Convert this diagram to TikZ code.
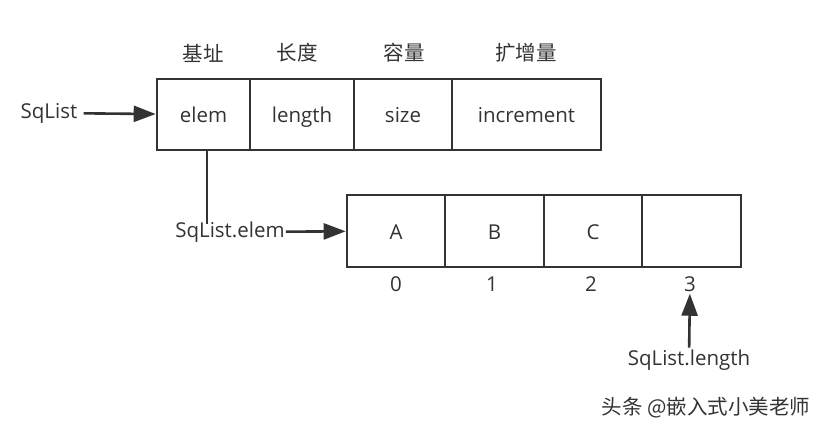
\documentclass[tikz,border=0pt]{standalone}
\usepackage{fontspec}
\setmainfont{Open Sans}
\newfontfamily\cjk{Noto Sans CJK SC}
\usetikzlibrary{positioning,calc,arrows.meta}

\definecolor{inkgray}{HTML}{333333}

\tikzset{
	cell/.style={draw=inkgray, line width=2.6pt, minimum height=71pt, inner sep=0pt, text=inkgray, text height=16pt, text depth=0pt},
	lbl/.style={text=inkgray, inner sep=2pt},
	ptr/.style={draw=inkgray, line width=2.6pt, -{Triangle[length=22pt,width=16pt]}}
}

\begin{document}
\begin{tikzpicture}[x=1pt,y=-1pt,font=\fontsize{20.5}{24}\selectfont]
				\useasboundingbox (0,0) rectangle (825,429);
				% top record
				\node[cell, minimum width=93pt] (elem) at (203.5, 114.5) {elem};
				\node[cell, minimum width=104pt] (length) at (302, 114.5) {length};
				\node[cell, minimum width=98pt] (size) at (403, 114.5) {size};
				\node[cell, minimum width=149pt] (incr) at (526.5, 114.5) {increment};
				\node[lbl] (hbase) at (203, 53) {\cjk 基址};
				\node[lbl] (hlen) at (297, 53) {\cjk 长度};
				\node[lbl] (hsize) at (404, 53) {\cjk 容量};
				\node[lbl] (hincr) at (526, 53) {\cjk 扩增量};
				\node[lbl, inner sep=6pt] (sqlist) at (49, 113) {SqList};
				\draw[ptr] (sqlist) -- (elem);
				% element array
				\node[cell, minimum width=98pt, minimum height=72pt] (ca) at (396, 231) {A};
				\node[cell, minimum width=99pt, minimum height=72pt] (cb) at (494.5, 231) {B};
				\node[cell, minimum width=98pt, minimum height=72pt] (cc) at (593, 231) {C};
				\node[cell, minimum width=99pt, minimum height=72pt] (cd) at (691.5, 231) {};
				\node[lbl] (i0) at (396, 284) {0};
				\node[lbl] (i1) at (492, 284) {1};
				\node[lbl] (i2) at (591, 284) {2};
				\node[lbl] (i3) at (690, 284) {3};
				\node[lbl, inner sep=1pt] (selem) at (230, 232) {SqList.elem};
				\coordinate (elemend) at (207, 224);
				\draw[draw=inkgray, line width=2.6pt] (elemend |- elem.south) -- (elemend);
				\draw[ptr] (selem) -- (ca);
				\node[lbl] (slen) at (689, 360) {SqList.length};
				\draw[ptr] (slen) -- (i3);
				% watermark
				\node[lbl] (mark) at (706, 408) {\cjk 头条 @嵌入式小美老师};
\end{tikzpicture}
\end{document}
